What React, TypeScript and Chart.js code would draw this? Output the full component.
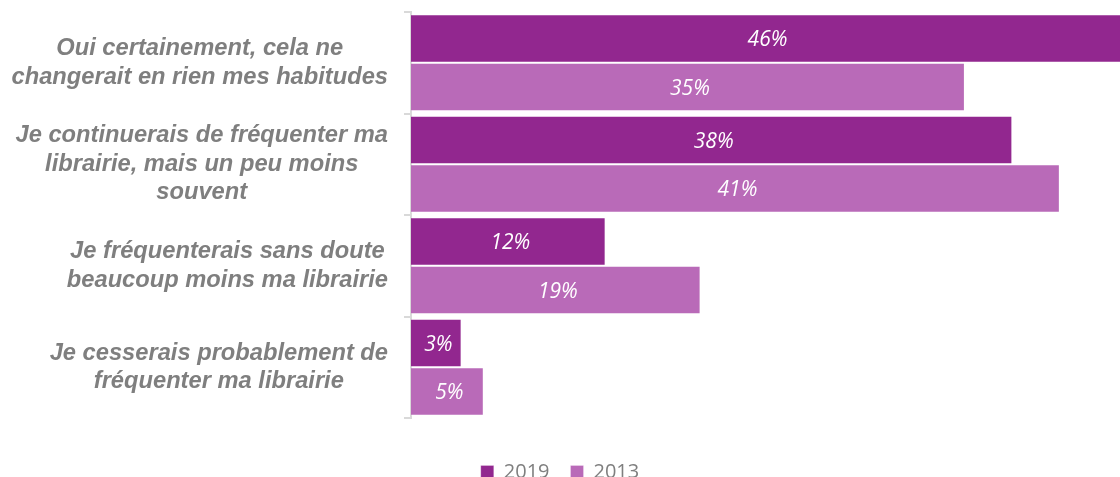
import React, { useEffect, useRef } from 'react';
import { Chart, registerables } from 'chart.js';

Chart.register(...registerables);

const categories: string[][] = [
  ['Oui certainement, cela ne', 'changerait en rien mes habitudes'],
  ['Je continuerais de fréquenter ma', 'librairie, mais un peu moins', 'souvent'],
  ['Je fréquenterais sans doute', 'beaucoup moins ma librairie'],
  ['Je cesserais probablement de', 'fréquenter ma librairie'],
];
const seriesNames = ['2019', '2013'];
const values2019 = [46, 38, 12.3, 3.2];
const values2013 = [35, 41, 18.3, 4.6];
const labels2019 = ['46%', '38%', '12%', '3%'];
const labels2013 = ['35%', '41%', '19%', '5%'];
const axisMax = 44.8;

const COLOR_2019 = '#92278F';
const COLOR_2013 = '#B96AB8';

export default function App() {
  const ref = useRef<HTMLCanvasElement>(null);

  useEffect(() => {
    document.body.style.margin = '0';
    document.body.style.overflow = 'hidden';
    document.documentElement.style.overflow = 'hidden';
    const canvas = ref.current!;
    const valueLabels = [labels2019, labels2013];

    const barLabelPlugin = {
      id: 'barLabels',
      afterDatasetsDraw(chart: any) {
        const { ctx, chartArea } = chart;
        ctx.save();
        ctx.font = 'italic 21px "Open Sans"';
        ctx.fillStyle = '#FFFFFF';
        ctx.textAlign = 'center';
        ctx.textBaseline = 'middle';
        chart.data.datasets.forEach((_ds: any, di: number) => {
          const meta = chart.getDatasetMeta(di);
          meta.data.forEach((el: any, i: number) => {
            const { x, y, base } = el.getProps(['x', 'y', 'base'], true);
            const right = Math.min(x, chartArea.right);
            ctx.fillText(valueLabels[di][i], (base + right) / 2 + 2, y + 2);
          });
        });
        ctx.restore();
      },
    };

    const catLabelPlugin = {
      id: 'catLabels',
      afterDraw(chart: any) {
        const scale = chart.scales.y;
        const ctx = chart.ctx;
        ctx.save();
        ctx.font = 'italic bold 23.7px "Liberation Sans"';
        ctx.fillStyle = '#7F7F7F';
        ctx.textAlign = 'center';
        ctx.textBaseline = 'middle';
        const lh = 28.5;
        categories.forEach((lines, i) => {
          const yc = scale.getPixelForTick(i);
          const w = Math.max(...lines.map((l) => ctx.measureText(l).width));
          const cx = scale.right - 23 - w / 2;
          lines.forEach((l, k) => {
            ctx.fillText(l, cx, yc + (k - (lines.length - 1) / 2) * lh);
          });
        });
        ctx.restore();
      },
    };

    const chart = new Chart(canvas, {
      type: 'bar',
      data: {
        labels: categories.map((l) => l.join(' ')),
        datasets: [
          {
            label: seriesNames[0],
            data: values2019,
            backgroundColor: COLOR_2019,
            borderColor: 'rgba(255,255,255,0.25)',
            borderWidth: 1,
            categoryPercentage: 0.956,
            barPercentage: 1,
          },
          {
            label: seriesNames[1],
            data: values2013,
            backgroundColor: COLOR_2013,
            borderColor: 'rgba(255,255,255,0.25)',
            borderWidth: 1,
            categoryPercentage: 0.956,
            barPercentage: 1,
          },
        ],
      },
      options: {
        indexAxis: 'y',
        responsive: false,
        maintainAspectRatio: false,
        animation: false,
        layout: { padding: { top: 12, left: 0, right: 0, bottom: 0 } },
        scales: {
          x: {
            min: 0,
            max: axisMax,
            grid: { display: false },
            ticks: { display: false },
            border: { display: false },
            afterFit: (s: any) => {
              s.height = 23;
            },
          },
          y: {
            grid: {
              display: true,
              drawOnChartArea: false,
              drawTicks: true,
              tickLength: 7,
              color: '#D9D9D9',
              lineWidth: 2,
              offset: true,
            },
            border: { display: true, color: '#D9D9D9', width: 2 },
            ticks: { display: false },
            afterFit: (s: any) => {
              s.width = 411;
            },
          },
        },
        plugins: {
          tooltip: { enabled: false },
          legend: {
            position: 'bottom',
            labels: {
              boxWidth: 13,
              boxHeight: 13,
              padding: 21,
              color: '#7F7F7F',
              font: { family: 'Open Sans', size: 20 },
            },
          },
        },
      },
      plugins: [barLabelPlugin, catLabelPlugin],
    } as any);

    return () => chart.destroy();
  }, []);

  return <canvas ref={ref} width={1120} height={492} style={{ display: 'block' }} />;
}
